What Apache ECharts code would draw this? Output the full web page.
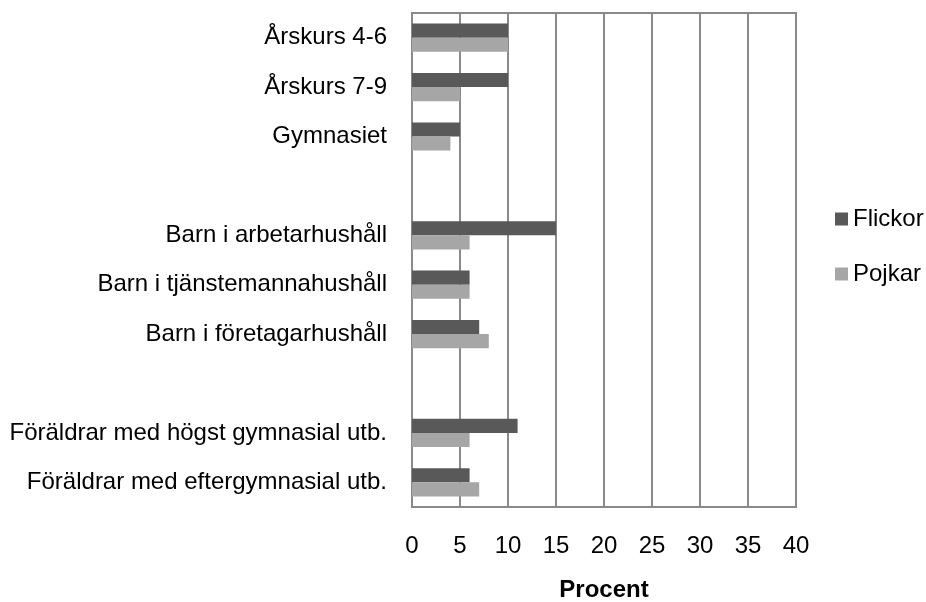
<!DOCTYPE html>
<html>
<head>
<meta charset="utf-8">
<script src="https://cdn.jsdelivr.net/npm/echarts@6/dist/echarts.min.js"></script>
<style>
  html, body { margin: 0; padding: 0; background: #fff; }
  #chart { width: 926px; height: 602px; }
</style>
</head>
<body>
<div id="chart"></div>
<script>
// categories top to bottom, empty strings are the spacer rows
var categories = [
  'Årskurs 4-6', 'Årskurs 7-9', 'Gymnasiet', '',
  'Barn i arbetarhushåll', 'Barn i tjänstemannahushåll', 'Barn i företagarhushåll', ' ',
  'Föräldrar med högst gymnasial utb.', 'Föräldrar med eftergymnasial utb.'
];
var flickor = [10, 10, 5, null, 15, 6, 7, null, 11, 6];
var pojkar = [10, 5, 4, null, 6, 6, 8, null, 6, 7];
var xTicks = { min: 0, max: 40, interval: 5 };

var font = 'Liberation Sans, Arial, sans-serif';
var myChart = echarts.init(document.getElementById('chart'));

myChart.setOption({
  animation: false,
  textStyle: { fontFamily: font },
  grid: {
    left: 412, right: 130, top: 13, bottom: 95,
    outerBoundsMode: 'none',
    show: true, borderColor: '#8a8a8a', borderWidth: 2,
    containLabel: false
  },
  legend: {
    orient: 'vertical',
    left: 835, top: 207,
    padding: 0,
    itemWidth: 13, itemHeight: 13, itemGap: 31,
    icon: 'rect',
    textStyle: { fontSize: 24, color: '#000', fontFamily: font },
    data: ['Flickor', 'Pojkar']
  },
  xAxis: {
    type: 'value',
    min: xTicks.min, max: xTicks.max, interval: xTicks.interval,
    name: 'Procent',
    nameLocation: 'middle',
    nameGap: 71,
    nameTextStyle: { fontSize: 24, fontWeight: 'bold', color: '#000', fontFamily: font },
    axisLine: { show: false },
    axisTick: { show: false },
    axisLabel: { fontSize: 24, color: '#000', margin: 27, fontFamily: font },
    splitLine: { show: true, lineStyle: { color: '#8a8a8a', width: 2 } }
  },
  yAxis: {
    type: 'category',
    inverse: true,
    data: categories,
    axisLine: { show: true, lineStyle: { color: '#8a8a8a', width: 2 } },
    axisTick: { show: false },
    axisLabel: { fontSize: 24, color: '#000', margin: 25, fontFamily: font }
  },
  series: [
    {
      name: 'Flickor', type: 'bar', data: flickor,
      itemStyle: { color: '#595959' },
      barGap: '0%', barCategoryGap: '43%'
    },
    {
      name: 'Pojkar', type: 'bar', data: pojkar,
      itemStyle: { color: '#a6a6a6' },
      barGap: '0%', barCategoryGap: '43%'
    }
  ]
});
</script>
</body>
</html>
